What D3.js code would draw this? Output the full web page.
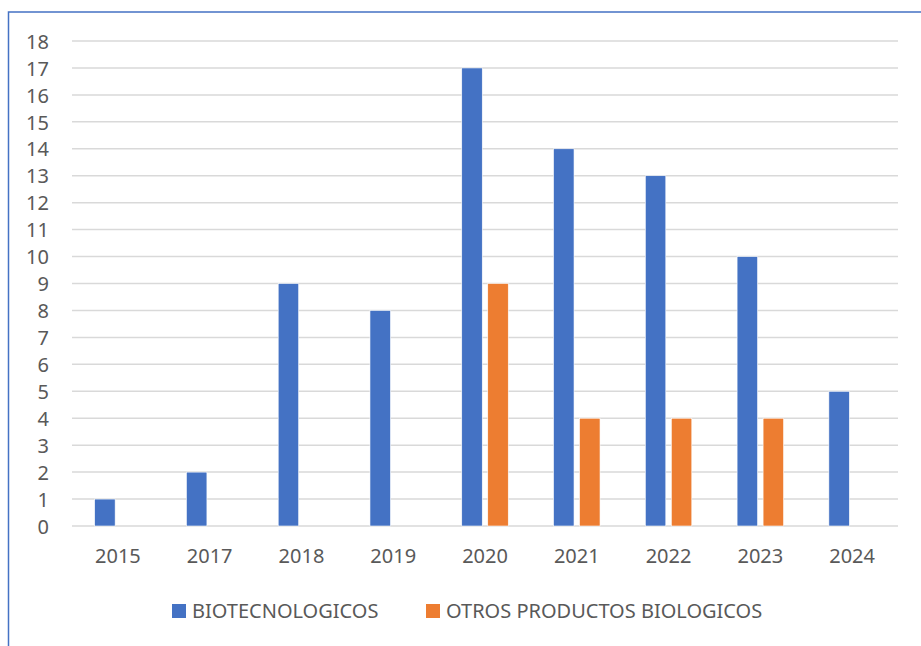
<!DOCTYPE html>
<html><head><meta charset="utf-8">
<script src="https://cdn.jsdelivr.net/npm/d3@7"></script>
<style>html,body{margin:0;padding:0;background:#fff;}svg{display:block;}</style>
</head><body>
<script>
const categories = ["2015","2017","2018","2019","2020","2021","2022","2023","2024"];
const biotecnologicos = [1,2,9,8,17,14,13,10,5];
const otrosBiologicos = [0,0,0,0,9,4,4,4,0];
const seriesNames = ["BIOTECNOLOGICOS","OTROS PRODUCTOS BIOLOGICOS"];
const yTicks = d3.range(0,19);

const W=921,H=646;
const colors=["#4472C4","#ED7D31"];
const font="'Noto Sans', 'Open Sans', sans-serif";
const svg=d3.select("body").append("svg").attr("width",W).attr("height",H);

// border
svg.append("path").attr("d",`M8.5,${H} L8.5,12 L${W},12`).attr("fill","none").attr("stroke","#4472C4").attr("stroke-width",1.5);

const x=d3.scaleBand().domain(categories).range([72,898]);
const y=d3.scaleLinear().domain([0,18]).range([526,41]);

const g=svg.append("g");
g.selectAll("line.grid").data(yTicks).join("line")
  .attr("x1",72).attr("x2",898).attr("y1",d=>y(d)).attr("y2",d=>y(d))
  .attr("stroke","#D9D9D9").attr("stroke-width",1.5);

const yAxis=d3.axisLeft(y).tickValues(yTicks).tickSize(0).tickPadding(0);
const ya=svg.append("g").attr("transform","translate(49,0)").call(yAxis);
ya.select(".domain").remove();
ya.selectAll("text").attr("fill","#595959").style("font-family",font).style("font-size","20px").attr("dy","0.36em");

const xAxis=d3.axisBottom(x).tickSize(0).tickPadding(0);
const xa=svg.append("g").attr("transform","translate(0,563)").call(xAxis);
xa.select(".domain").remove();
xa.selectAll("text").attr("fill","#595959").style("font-family",font).style("font-size","20px").attr("dy","0");

const barW=20.5, gap=5.5;
const series=[biotecnologicos,otrosBiologicos];
series.forEach((vals,si)=>{
  g.selectAll("rect.s"+si).data(categories.map((c,i)=>({c,v:vals[i]})).filter(d=>d.v>0)).join("rect")
    .attr("x",d=>x(d.c)+x.bandwidth()/2+(si===0?-(gap/2+barW):gap/2))
    .attr("width",barW)
    .attr("y",d=>y(d.v)).attr("height",d=>y(0)-y(d.v))
    .attr("fill",colors[si]).attr("stroke","#fff").attr("stroke-width",0.6);
});

// legend
const legX=[172,426];
seriesNames.forEach((n,i)=>{
  svg.append("rect").attr("x",legX[i]).attr("y",604).attr("width",14).attr("height",14).attr("fill",colors[i]);
  svg.append("text").attr("x",legX[i]+20).attr("y",618).text(n)
    .attr("fill","#595959").style("font-family",font).style("font-size","20px");
});
</script>
</body></html>
